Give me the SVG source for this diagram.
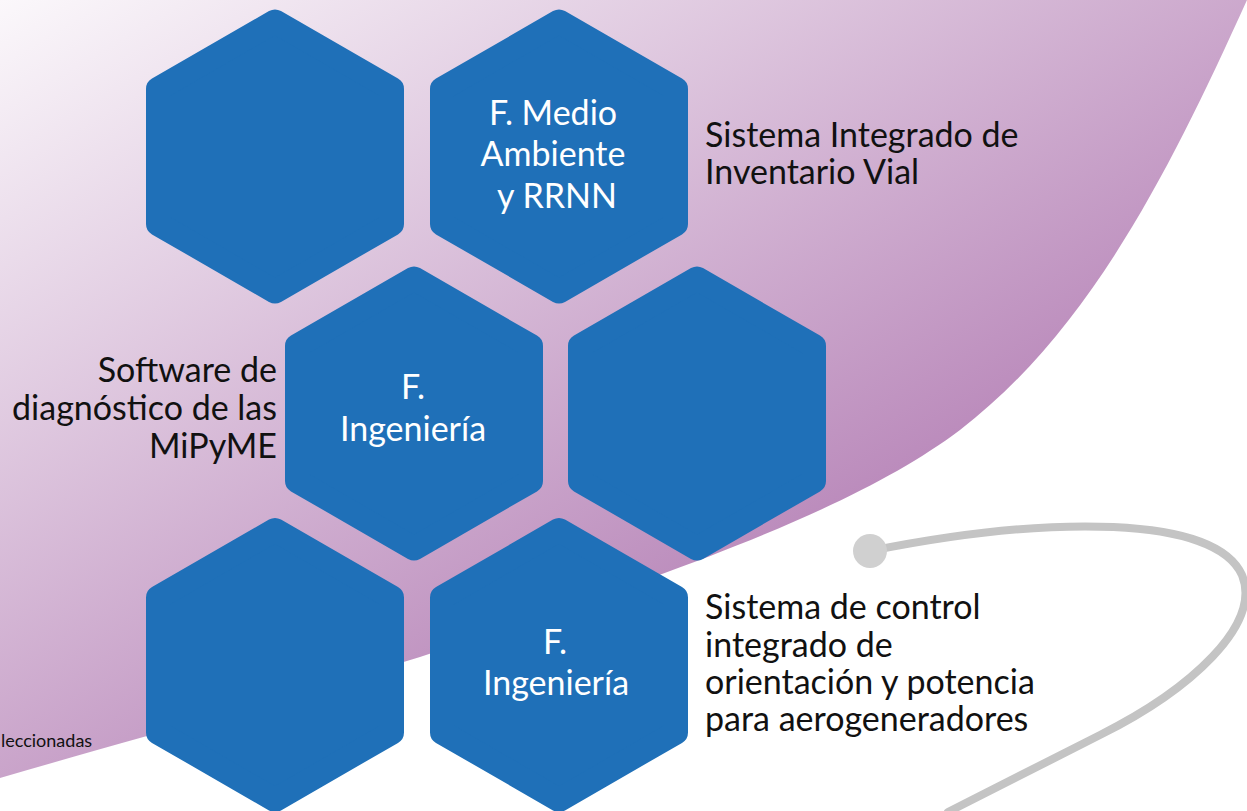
<svg xmlns="http://www.w3.org/2000/svg" xmlns:xlink="http://www.w3.org/1999/xlink" width="1247" height="811" viewBox="0 0 1247 811">
  <defs>
    <linearGradient id="bgGrad" gradientUnits="userSpaceOnUse" x1="0" y1="0" x2="500" y2="850">
      <stop offset="0" stop-color="#FBF8FB"/>
      <stop offset="1" stop-color="#B27CB3"/>
    </linearGradient>
    <polygon id="hex" points="0,-135 117,-67.5 117,67.5 0,135 -117,67.5 -117,-67.5"/>
  </defs>
  <style>
    .hex { fill: #1F70B8; stroke: #1F70B8; stroke-width: 24; stroke-linejoin: round; }
    .hl { font-family: Lato, "Liberation Sans", sans-serif; font-size: 34px; fill: #FFFFFF; text-anchor: middle; }
    .lbl { font-family: Lato, "Liberation Sans", sans-serif; font-size: 34px; fill: #111111; }
    .small { font-family: Lato, "Liberation Sans", sans-serif; font-size: 18px; fill: #111111; }
  </style>
  <rect x="0" y="0" width="1247" height="811" fill="#FFFFFF"/>
  <path id="bg-shape" d="M0,0 H1247 C1170,170 1090,330 960,430 C860,505 700,565 420,657 C280,700 130,740 0,778 Z" fill="url(#bgGrad)"/>

  <g id="connectors">
    <path d="M870,551 C1050,515 1215,515 1242,575 C1262,625 1190,690 1100,735 L948,812" fill="none" stroke="#C4C4C4" stroke-width="8" stroke-linecap="round"/>
    <circle cx="870" cy="551" r="17" fill="#D0D0D0"/>
  </g>

  <g id="hex-r1c1"><use xlink:href="#hex" href="#hex" class="hex" x="275" y="156.5"/></g>
  <g id="hex-medio-ambiente">
    <use xlink:href="#hex" href="#hex" class="hex" x="559" y="156.5"/>
    <text class="hl" x="553" y="125">F. Medio</text>
    <text class="hl" x="553" y="166">Ambiente</text>
    <text class="hl" x="557" y="208">y RRNN</text>
  </g>
  <g id="hex-ingenieria-1">
    <use xlink:href="#hex" href="#hex" class="hex" x="414" y="413.5"/>
    <text class="hl" x="413" y="399">F.</text>
    <text class="hl" x="413" y="441">Ingeniería</text>
  </g>
  <g id="hex-r2c2"><use xlink:href="#hex" href="#hex" class="hex" x="697" y="413.5"/></g>
  <g id="hex-r3c1"><use xlink:href="#hex" href="#hex" class="hex" x="275" y="665"/></g>
  <g id="hex-ingenieria-2">
    <use xlink:href="#hex" href="#hex" class="hex" x="559" y="665"/>
    <text class="hl" x="555" y="654">F.</text>
    <text class="hl" x="556" y="695">Ingeniería</text>
  </g>

  <g id="label-inventario">
    <text class="lbl" x="705" y="147">Sistema Integrado de</text>
    <text class="lbl" x="705" y="184">Inventario Vial</text>
  </g>
  <g id="label-software">
    <text class="lbl" x="277" y="382" text-anchor="end">Software de</text>
    <text class="lbl" x="277" y="420" text-anchor="end">diagnóstico de las</text>
    <text class="lbl" x="277" y="458" text-anchor="end">MiPyME</text>
  </g>
  <g id="label-aerogeneradores">
    <text class="lbl" x="705" y="619">Sistema de control</text>
    <text class="lbl" x="705" y="657">integrado de</text>
    <text class="lbl" x="705" y="694">orientación y potencia</text>
    <text class="lbl" x="705" y="731">para aerogeneradores</text>
  </g>
  <g id="label-footer">
    <text class="small" x="1" y="747">leccionadas</text>
  </g>
</svg>
